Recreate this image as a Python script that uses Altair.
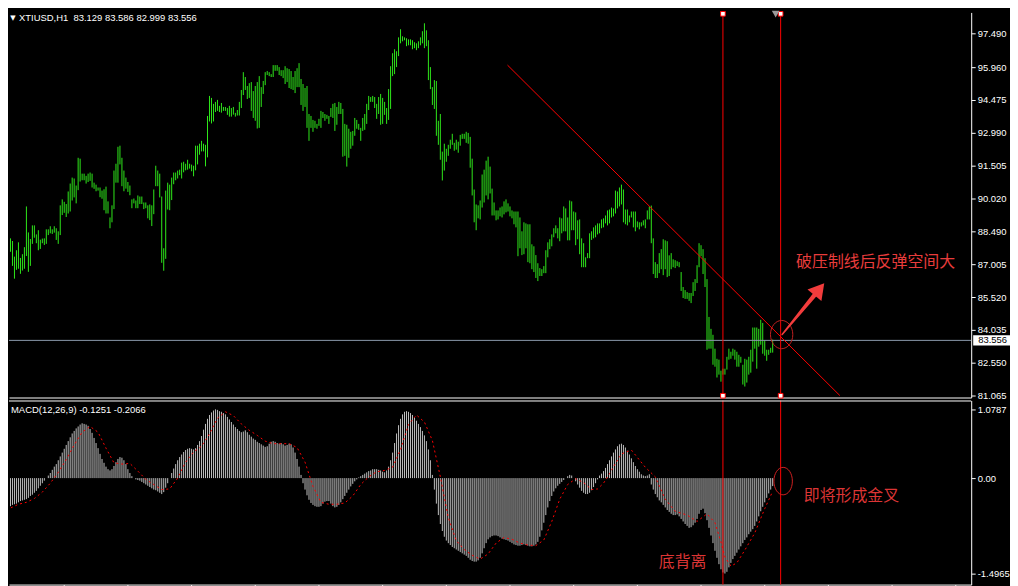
import altair as alt
import pandas as pd

# ---------------- price bars (H1 XTIUSD) ----------------
highs = [
    87.67, 87.71, 87.92, 88.19, 88.19, 88.07, 87.36, 87.65, 88.01, 87.30,
    87.47, 87.79, 89.64, 88.46, 88.16, 88.78, 88.78, 88.37, 88.56, 88.13,
    88.18, 88.19, 88.60, 88.60, 88.74, 88.60, 88.74, 88.65, 88.51, 89.69,
    89.96, 89.85, 89.75, 90.32, 90.68, 90.95, 90.91, 90.59, 91.85, 91.81,
    91.13, 91.13, 91.03, 91.13, 91.18, 91.13, 90.72, 90.63, 90.50, 90.50,
    90.36, 90.42, 90.54, 89.87, 89.14, 89.69, 91.27, 91.58, 92.35, 92.40,
    91.85, 91.27, 90.95, 90.75, 90.59, 89.96, 90.00, 89.91, 90.14, 90.09,
    90.09, 89.82, 89.82, 89.69, 89.73, 89.69, 90.41, 91.49, 91.27, 91.13,
    90.09, 87.74, 90.36, 90.72, 90.63, 90.95, 91.18, 91.18, 91.27, 91.31,
    91.63, 91.67, 91.58, 91.76, 91.58, 91.54, 91.49, 92.40, 92.40, 92.49,
    92.62, 92.49, 92.44, 93.75, 94.66, 94.57, 94.30, 94.39, 94.48, 94.21,
    94.34, 94.16, 94.16, 94.11, 94.21, 94.11, 94.16, 93.89, 94.02, 94.39,
    94.93, 95.74, 95.52, 95.11, 95.24, 95.29, 94.88, 95.11, 95.29, 95.56,
    95.06, 95.34, 95.74, 95.79, 95.74, 95.65, 96.06, 96.06, 96.06, 95.97,
    95.83, 95.83, 96.01, 95.92, 95.88, 95.79, 95.52, 95.79, 95.92, 96.15,
    95.43, 95.20, 95.02, 95.11, 93.84, 93.75, 93.57, 93.53, 93.39, 93.62,
    93.98, 93.93, 93.84, 93.80, 93.75, 94.11, 94.30, 94.34, 94.16, 94.39,
    94.34, 94.07, 93.39, 93.35, 93.17, 93.03, 93.07, 93.66, 93.57, 93.39,
    93.21, 93.66, 93.84, 94.30, 94.66, 94.61, 94.66, 94.61, 94.30, 94.61,
    94.75, 94.57, 94.39, 94.11, 94.97, 96.01, 96.60, 96.78, 96.69, 97.32,
    97.69, 97.37, 97.32, 97.28, 97.23, 97.23, 97.19, 97.10, 97.05, 97.14,
    97.32, 97.60, 97.96, 97.64, 97.19, 95.97, 95.06, 95.38, 95.34, 93.53,
    93.84, 92.13, 92.49, 92.26, 92.44, 92.67, 92.94, 92.53, 92.67, 92.58,
    92.89, 92.94, 92.94, 93.03, 92.98, 92.80, 91.81, 90.41, 89.73, 89.69,
    89.91, 91.09, 91.31, 91.72, 91.90, 91.45, 90.45, 89.82, 89.46, 89.46,
    89.59, 89.64, 89.87, 89.96, 89.78, 89.64, 89.46, 89.41, 89.41, 89.41,
    89.14, 88.51, 88.92, 88.87, 88.83, 88.83, 87.92, 87.83, 87.43, 87.06,
    86.84, 86.79, 86.93, 87.65, 88.01, 88.15, 88.37, 88.65, 88.78, 88.65,
    89.14, 89.10, 89.64, 89.55, 89.14, 89.91, 89.87, 89.41, 89.37, 89.01,
    89.05, 88.19, 87.97, 87.33, 87.52, 88.42, 88.51, 88.69, 88.78, 88.87,
    88.87, 89.05, 89.10, 89.23, 89.46, 89.50, 89.59, 89.55, 90.36, 90.32,
    90.50, 90.63, 90.41, 89.50, 89.50, 89.23, 89.41, 89.41, 89.41, 88.96,
    88.92, 88.92, 89.01, 89.05, 89.46, 89.64, 89.68, 88.19, 87.11, 87.02,
    87.52, 87.70, 88.15, 88.10, 88.06, 87.42, 87.52, 87.24, 87.20, 87.15,
    87.11, 86.66, 85.98, 85.84, 85.75, 85.71, 85.71, 86.20, 86.34, 86.97,
    87.97, 87.88, 87.70, 87.29, 86.34, 84.62, 84.08, 83.81, 83.18, 82.72,
    82.68, 82.18, 82.27, 82.27, 82.81, 83.18, 83.04, 83.18, 83.13, 83.04,
    82.90, 82.81, 82.45, 82.72, 82.68, 82.81, 83.13, 84.14, 84.14, 84.14,
    84.08, 84.49, 84.35, 83.56, 83.13, 83.13, 83.22, 83.59,
]
lows = [
    87.12, 87.52, 87.56, 87.56, 87.58, 86.94, 86.36, 86.76, 86.81, 86.58,
    86.73, 86.81, 87.39, 86.67, 86.94, 87.94, 88.22, 87.97, 87.65, 87.71,
    87.97, 87.89, 87.94, 88.34, 88.42, 88.39, 88.45, 88.12, 87.94, 88.34,
    89.25, 89.35, 89.16, 89.32, 89.41, 89.91, 90.05, 89.78, 90.38, 90.77,
    90.83, 90.83, 90.68, 90.75, 90.80, 90.50, 90.44, 90.33, 90.36, 90.06,
    89.99, 89.47, 89.32, 89.32, 88.65, 88.92, 89.52, 90.72, 90.72, 91.55,
    90.56, 90.33, 90.45, 90.30, 90.15, 89.56, 89.78, 89.56, 89.56, 89.75,
    89.75, 89.52, 89.56, 89.10, 89.02, 88.75, 89.29, 90.56, 90.56, 90.05,
    87.08, 86.72, 87.26, 89.50, 89.47, 89.93, 90.65, 90.83, 90.91, 91.06,
    90.91, 91.19, 91.28, 91.31, 91.36, 91.24, 91.01, 91.28, 91.55, 91.99,
    92.14, 92.14, 91.46, 91.87, 93.50, 93.41, 93.50, 93.93, 93.98, 93.93,
    93.90, 93.98, 93.98, 93.80, 93.72, 93.72, 93.81, 93.72, 93.77, 93.77,
    94.11, 94.70, 94.93, 94.52, 94.57, 93.98, 93.66, 93.53, 93.18, 93.21,
    94.16, 94.75, 95.15, 95.61, 95.56, 95.52, 95.52, 95.80, 95.80, 95.61,
    95.56, 95.47, 95.20, 95.29, 95.02, 94.97, 94.93, 94.79, 95.06, 95.06,
    94.25, 93.98, 94.16, 93.21, 92.62, 93.21, 93.03, 93.21, 93.17, 93.30,
    93.21, 93.66, 93.53, 93.62, 93.39, 93.71, 93.66, 93.07, 93.35, 93.84,
    93.84, 91.90, 91.94, 91.45, 91.85, 92.26, 92.40, 92.85, 93.17, 93.12,
    92.62, 93.07, 93.12, 93.39, 94.02, 94.39, 94.39, 94.11, 93.62, 93.84,
    93.35, 93.39, 93.80, 93.39, 93.57, 94.07, 95.56, 95.65, 95.97, 96.47,
    97.05, 97.14, 97.19, 96.92, 96.96, 96.96, 96.78, 96.83, 96.74, 96.83,
    96.96, 97.05, 96.83, 96.92, 95.38, 94.97, 94.25, 94.07, 92.85, 92.44,
    91.76, 90.82, 91.27, 91.67, 91.94, 92.26, 92.44, 92.17, 92.22, 92.08,
    92.40, 92.71, 92.71, 92.53, 92.49, 91.40, 90.14, 88.92, 88.56, 89.10,
    89.05, 89.59, 89.82, 90.14, 89.96, 90.23, 89.23, 89.23, 89.01, 89.05,
    89.19, 89.14, 89.28, 89.37, 89.41, 89.19, 89.10, 88.83, 88.69, 87.38,
    87.74, 87.43, 87.47, 87.74, 87.11, 87.06, 86.79, 86.66, 86.39, 86.25,
    86.48, 86.48, 86.61, 86.61, 87.33, 87.70, 87.83, 88.24, 88.42, 88.19,
    88.06, 88.42, 88.51, 88.51, 88.10, 88.10, 88.56, 88.56, 87.88, 88.15,
    87.47, 86.88, 86.88, 86.88, 87.29, 87.29, 88.12, 88.19, 88.24, 88.37,
    88.42, 88.65, 88.69, 88.87, 88.78, 88.87, 89.14, 89.19, 89.32, 89.55,
    89.64, 89.73, 88.92, 88.83, 88.78, 88.92, 89.14, 88.69, 88.51, 88.69,
    88.60, 88.73, 88.78, 88.65, 89.05, 89.05, 87.97, 86.57, 86.39, 86.39,
    86.61, 86.79, 86.52, 86.79, 86.43, 86.48, 86.79, 86.88, 86.84, 86.93,
    86.88, 85.80, 85.48, 85.44, 85.44, 85.35, 85.25, 85.57, 85.80, 86.16,
    86.88, 87.38, 86.57, 85.98, 83.13, 83.18, 83.18, 82.45, 82.36, 81.87,
    82.00, 81.68, 82.00, 82.00, 82.23, 82.68, 82.72, 82.86, 82.68, 82.36,
    82.36, 82.54, 81.55, 81.46, 81.64, 82.00, 82.09, 82.59, 83.18, 82.27,
    83.27, 83.36, 82.95, 82.86, 82.63, 82.90, 82.99, 83.00,
]

# ---------------- MACD(12,26,9): main line histogram, one value per bar ----------------
macd_hist = [
    -0.40, -0.42, -0.44, -0.45, -0.44, -0.42, -0.41, -0.40, -0.38, -0.36,
    -0.35, -0.34, -0.33, -0.31, -0.28, -0.26, -0.23, -0.20, -0.16, -0.12,
    -0.08, -0.04, 0.00, 0.04, 0.08, 0.13, 0.18, 0.22, 0.28, 0.34,
    0.40, 0.46, 0.52, 0.58, 0.64, 0.70, 0.74, 0.78, 0.81, 0.84,
    0.86, 0.85, 0.84, 0.82, 0.77, 0.71, 0.63, 0.55, 0.47, 0.38,
    0.30, 0.24, 0.18, 0.14, 0.12, 0.14, 0.19, 0.25, 0.30, 0.33,
    0.32, 0.28, 0.22, 0.14, 0.08, 0.03, 0.00, -0.02, -0.03, -0.04,
    -0.06, -0.08, -0.10, -0.12, -0.14, -0.16, -0.18, -0.19, -0.21, -0.23,
    -0.25, -0.22, -0.15, -0.08, 0.00, 0.08, 0.15, 0.22, 0.28, 0.33,
    0.37, 0.41, 0.44, 0.46, 0.47, 0.46, 0.45, 0.47, 0.52, 0.58,
    0.66, 0.76, 0.85, 0.93, 0.99, 1.03, 1.06, 1.0787, 1.07, 1.05,
    1.04, 1.02, 1.00, 0.96, 0.92, 0.88, 0.84, 0.80, 0.77, 0.74,
    0.72, 0.73, 0.75, 0.72, 0.68, 0.65, 0.62, 0.60, 0.57, 0.55,
    0.53, 0.51, 0.49, 0.50, 0.54, 0.57, 0.58, 0.57, 0.55, 0.54,
    0.55, 0.53, 0.51, 0.52, 0.54, 0.53, 0.48, 0.40, 0.30, 0.18,
    0.05, -0.08, -0.18, -0.27, -0.34, -0.39, -0.42, -0.44, -0.45, -0.45,
    -0.44, -0.40, -0.37, -0.36, -0.36, -0.40, -0.44, -0.46, -0.45, -0.42,
    -0.38, -0.33, -0.28, -0.23, -0.18, -0.13, -0.09, -0.05, -0.02, 0.01,
    0.03, 0.05, 0.07, 0.09, 0.11, 0.12, 0.14, 0.14, 0.14, 0.13,
    0.12, 0.10, 0.09, 0.12, 0.18, 0.28, 0.40, 0.55, 0.70, 0.83,
    0.93, 1.00, 1.04, 1.05, 1.04, 1.02, 0.99, 0.95, 0.90, 0.85,
    0.80, 0.74, 0.67, 0.58, 0.45, 0.28, 0.05, -0.18, -0.40, -0.58,
    -0.72, -0.83, -0.92, -0.98, -1.02, -1.05, -1.08, -1.10, -1.12, -1.14,
    -1.16, -1.18, -1.20, -1.22, -1.25, -1.28, -1.30, -1.31, -1.31, -1.29,
    -1.25, -1.18, -1.10, -1.02, -0.96, -0.93, -0.91, -0.90, -0.90, -0.91,
    -0.93, -0.95, -0.96, -0.97, -0.98, -1.00, -1.02, -1.04, -1.05, -1.06,
    -1.06, -1.05, -1.04, -1.05, -1.06, -1.07, -1.07, -1.06, -1.04, -1.00,
    -0.92, -0.82, -0.70, -0.58, -0.46, -0.36, -0.28, -0.21, -0.16, -0.12,
    -0.09, -0.06, -0.03, 0.00, 0.03, 0.05, 0.04, 0.00, -0.05, -0.10,
    -0.15, -0.20, -0.23, -0.25, -0.25, -0.23, -0.19, -0.14, -0.08, -0.02,
    0.04, 0.07, 0.11, 0.16, 0.22, 0.28, 0.34, 0.40, 0.45, 0.50,
    0.53, 0.54, 0.52, 0.48, 0.43, 0.37, 0.31, 0.25, 0.19, 0.14,
    0.10, 0.06, 0.04, 0.03, 0.04, 0.06, -0.10, -0.18, -0.25, -0.30,
    -0.35, -0.38, -0.42, -0.46, -0.50, -0.53, -0.56, -0.58, -0.58, -0.57,
    -0.60, -0.64, -0.68, -0.72, -0.75, -0.78, -0.77, -0.74, -0.70, -0.64,
    -0.56, -0.50, -0.48, -0.55, -0.66, -0.78, -0.90, -1.02, -1.14, -1.25,
    -1.35, -1.43, -1.48, -1.4965, -1.47, -1.40, -1.33, -1.27, -1.22, -1.17,
    -1.12, -1.07, -1.02, -0.97, -0.93, -0.88, -0.84, -0.80, -0.75, -0.68,
    -0.60, -0.52, -0.45, -0.38, -0.31, -0.24, -0.18, -0.1251,
]
# signal line, read at these bars
signal_bar = [0, 4, 8, 12, 16, 20, 24, 28, 32, 36, 40, 44, 48, 52, 56, 60, 64, 68, 72, 76,
              80, 84, 88, 92, 96, 100, 104, 108, 112, 116, 120, 124, 128, 132, 136, 140, 144,
              148, 152, 156, 160, 164, 168, 172, 176, 180, 184, 188, 192, 196, 200, 204, 208,
              212, 216, 220, 224, 228, 232, 236, 240, 244, 248, 252, 256, 260, 264, 268, 272,
              276, 280, 284, 288, 292, 296, 299, 302, 305, 308, 311, 316, 323, 328, 333, 338,
              344, 349, 354, 358, 361, 363, 366, 369, 373, 378, 383, 387]
signal_val = [
    -0.55, -0.47, -0.41, -0.38, -0.32, -0.22, -0.08, 0.09, 0.29, 0.52,
    0.72, 0.81, 0.72, 0.47, 0.24, 0.22, 0.23, 0.11, -0.02, -0.10,
    -0.18, -0.17, 0.00, 0.25, 0.41, 0.50, 0.69, 0.94, 1.04, 0.98,
    0.85, 0.75, 0.67, 0.58, 0.54, 0.54, 0.54, 0.48, 0.25, -0.13,
    -0.38, -0.41, -0.41, -0.39, -0.28, -0.10, 0.02, 0.10, 0.12, 0.17,
    0.45, 0.84, 0.99, 0.88, 0.59, 0.02, -0.62, -0.98, -1.12, -1.21,
    -1.27, -1.19, -1.02, -0.93, -0.96, -1.02, -1.05, -1.06, -0.97, -0.68,
    -0.33, -0.10, -0.01, -0.07, -0.18,
    -0.17, -0.08, 0.07, 0.23, 0.38, 0.44, 0.17, 0.02, -0.33, -0.52,
    -0.58, -0.68, -0.56, -0.70, -1.00, -1.24, -1.38, -1.33, -1.13, -0.86,
    -0.48, -0.2066,
]

# ---------------- axis ticks / annotations ----------------
price_ticks = [81.065, 82.550, 84.035, 85.520, 87.005, 88.490, 90.020,
               91.505, 92.990, 94.475, 95.960, 97.490]
macd_ticks = [1.0787, 0.0, -1.4965]
time_ticks = [30.75, 62.75, 94.75, 126.75, 158.75, 190.75, 222.75, 254.75,
              286.75, 318.75, 350.75, 382.75, 414.75, 446.75, 478.75]
current_price = 83.556
vline_bars = [362, 391]
shift_marker = (388.5, 98.38)
trend_bar = [253.75, 420.75]
trend_price = [96.06, 81.05]
arrow_bar = [391.75, 410.45]
arrow_price = [83.82, 85.88]
arrow_width = [1.5, 5.0]
arrow_head = (410.45, 85.88)
circle_main = (391.5, 83.82)
circle_macd = (392.25, -0.047)
note_main = ("破压制线后反弹空间大", 398.75, 87.12)
note_cross = ("即将形成金叉", 402.6, -0.281)
note_div = ("底背离", 329.75, -1.319)
header_text = "XTIUSD,H1\u00a0\u00a083.129 83.586 82.999 83.556"
macd_text = "MACD(12,26,9) -0.1251 -0.2066"

# ---------------- styling ----------------
W, H1, H2 = 967, 387, 185
GREEN = "#2ee81a"
RED = "#ff0000"
NOTE_RED = "#e83c3c"
FONT = "Liberation Sans"
CJK = "Noto Sans CJK SC"

xs = alt.Scale(domain=[3.25, 486.75], nice=False, zero=False)
ys = alt.Scale(domain=[80.961, 98.453], nice=False, zero=False)
ms = alt.Scale(domain=[-1.670, 1.2174], nice=False, zero=False)

# identical axis specs shared by every layer of a panel
PX_AXIS = alt.Axis(labels=False, ticks=False, grid=False, title=None, domainColor="white")
PY_AXIS = alt.Axis(orient="right", values=price_ticks, format=".3f", grid=False, title=None,
                   tickSize=4, labelPadding=2, labelFlush=False, labelOverlap=False)
MX_AXIS = alt.Axis(values=time_ticks, labels=False, tickSize=4, grid=False, title=None,
                   domainColor="white")
MY_AXIS = alt.Axis(orient="right", values=macd_ticks, grid=False, title=None, tickSize=4,
                   labelPadding=2, labelFlush=False, labelOverlap=False,
                   labelExpr="datum.value == 0 ? '0.00' : '' + datum.value")


def PXe(field):
    return alt.X(field, scale=xs, axis=PX_AXIS)


def PYe(field):
    return alt.Y(field, scale=ys, axis=PY_AXIS)


def MXe(field):
    return alt.X(field, scale=xs, axis=MX_AXIS)


def MYe(field):
    return alt.Y(field, scale=ms, axis=MY_AXIS)


price_df = pd.DataFrame({"i": list(range(len(highs))), "high": highs, "low": lows})

bars = alt.Chart(price_df).mark_rule(color=GREEN, strokeWidth=1, clip=True).encode(
    x=PXe("i:Q"), y=PYe("low:Q"), y2="high:Q")

cur_line = alt.Chart(pd.DataFrame({"p": [current_price]})).mark_rule(
    color="#8a99ab", strokeWidth=1).encode(y=PYe("p:Q"))

trend_df = pd.DataFrame({"i": trend_bar, "p": trend_price})
trend = alt.Chart(trend_df).mark_line(color=RED, strokeWidth=1, clip=True).encode(
    x=PXe("i:Q"), y=PYe("p:Q"))

vl_df = pd.DataFrame({"i": vline_bars})
vlines_main = alt.Chart(vl_df).mark_rule(color=RED, strokeWidth=1).encode(x=PXe("i:Q"))

marker_df = pd.DataFrame({"i": vline_bars * 2, "p": [98.39, 98.39, 81.04, 81.04]})
markers = alt.Chart(marker_df).mark_point(shape="square", size=22, filled=True,
                                          fill="white", stroke=RED, strokeWidth=1,
                                          opacity=1).encode(x=PXe("i:Q"), y=PYe("p:Q"))
shift_mark = alt.Chart(pd.DataFrame({"i": [shift_marker[0]], "p": [shift_marker[1]]})).mark_point(
    shape="triangle-down", size=60, filled=True, color="#9a9a9a", opacity=1).encode(
    x=PXe("i:Q"), y=PYe("p:Q"))

ellipse_main = alt.Chart(pd.DataFrame({"i": [circle_main[0]], "p": [circle_main[1]]})).mark_point(
    shape="M0,-1A0.79,1 0 1,1 0,1A0.79,1 0 1,1 0,-1Z", size=806, filled=False,
    color="#c02020", strokeWidth=1, opacity=1).encode(x=PXe("i:Q"), y=PYe("p:Q"))

arrow_df = pd.DataFrame({"i": arrow_bar, "p": arrow_price, "w": arrow_width})
arrow_shaft = alt.Chart(arrow_df).mark_trail(color="#f23c3c").encode(
    x=PXe("i:Q"), y=PYe("p:Q"), size=alt.Size("w:Q", scale=None, legend=None))
arrow_tip = alt.Chart(pd.DataFrame({"i": [arrow_head[0]], "p": [arrow_head[1]]})).mark_point(
    shape="triangle-up", size=324, angle=39, filled=True, color="#f23c3c", opacity=1).encode(
    x=PXe("i:Q"), y=PYe("p:Q"))

note1 = alt.Chart(pd.DataFrame({"t": [note_main[0]], "i": [note_main[1]], "p": [note_main[2]]})).mark_text(
    align="left", baseline="middle", font=CJK, fontSize=16, color=NOTE_RED).encode(
    x=PXe("i:Q"), y=PYe("p:Q"), text="t:N")

header = alt.Chart(pd.DataFrame({"t": [header_text]})).mark_text(
    align="left", baseline="top", font=FONT, fontSize=9.5, color="white").encode(
    x=alt.value(10), y=alt.value(1), text="t:N")
header_tri = alt.Chart(pd.DataFrame({"t": ["▼"]})).mark_text(
    align="center", baseline="top", font="DejaVu Sans", fontSize=7, color="white").encode(
    x=alt.value(4), y=alt.value(2), text="t:N")

box = alt.Chart(pd.DataFrame({"a": [current_price + 0.23], "b": [current_price - 0.23]})).mark_rect(
    color="white").encode(x=alt.value(969), x2=alt.value(1006), y=PYe("a:Q"), y2="b:Q")
box_text = alt.Chart(pd.DataFrame({"p": [current_price], "t": ["83.556"]})).mark_text(
    align="left", baseline="middle", font=FONT, fontSize=9.5, color="black").encode(
    x=alt.value(974), y=PYe("p:Q"), text="t:N")

main = alt.layer(bars, cur_line, trend, vlines_main, ellipse_main, arrow_shaft, arrow_tip,
                 note1, header_tri, header, box, box_text, markers,
                 shift_mark).properties(width=W, height=H1)

# ---------------- MACD panel ----------------
macd_df = pd.DataFrame({"i": list(range(len(macd_hist))), "h": macd_hist})
sig_df = pd.DataFrame({"i": signal_bar, "s": signal_val})
hist = alt.Chart(macd_df).mark_rule(color="#c0c0c0", strokeWidth=1, clip=True).encode(
    x=MXe("i:Q"), y=MYe("h:Q"), y2=alt.datum(0))
signal = alt.Chart(sig_df).mark_line(color=RED, strokeWidth=1, strokeDash=[2, 3], clip=True).encode(
    x=MXe("i:Q"), y=MYe("s:Q"))
vlines_macd = alt.Chart(vl_df).mark_rule(color=RED, strokeWidth=1).encode(x=MXe("i:Q"))
top_border = alt.Chart(pd.DataFrame({"k": [0]})).mark_rule(color="white", strokeWidth=1).encode(
    y=alt.value(0.5))
ellipse_macd = alt.Chart(pd.DataFrame({"i": [circle_macd[0]], "v": [circle_macd[1]]})).mark_point(
    shape="M0,-1A0.674,1 0 1,1 0,1A0.674,1 0 1,1 0,-1Z", size=762, filled=False,
    color="#d02020", strokeWidth=1, opacity=1).encode(x=MXe("i:Q"), y=MYe("v:Q"))
note2 = alt.Chart(pd.DataFrame({"t": [note_cross[0]], "i": [note_cross[1]], "v": [note_cross[2]]})).mark_text(
    align="left", baseline="middle", font=CJK, fontSize=16, color="#dc3535").encode(
    x=MXe("i:Q"), y=MYe("v:Q"), text="t:N")
note3 = alt.Chart(pd.DataFrame({"t": [note_div[0]], "i": [note_div[1]], "v": [note_div[2]]})).mark_text(
    align="left", baseline="middle", font=CJK, fontSize=16, color="#dc3535").encode(
    x=MXe("i:Q"), y=MYe("v:Q"), text="t:N")
macd_label = alt.Chart(pd.DataFrame({"t": [macd_text]})).mark_text(
    align="left", baseline="top", font=FONT, fontSize=9.5, color="white").encode(
    x=alt.value(2), y=alt.value(5), text="t:N")

macd = alt.layer(hist, signal, vlines_macd, top_border, ellipse_macd, note2, note3,
                 macd_label).properties(width=W, height=H2)

chart = alt.vconcat(main, macd, spacing=3, bounds="flush").properties(
    padding=0, background="black"
).configure_view(stroke=None).configure_axis(
    domainColor="white", tickColor="white", labelColor="white", labelFont=FONT,
    labelFontSize=9.5, grid=False
)

chart.save("out.html", embed_options={"renderer": "svg", "actions": False})
